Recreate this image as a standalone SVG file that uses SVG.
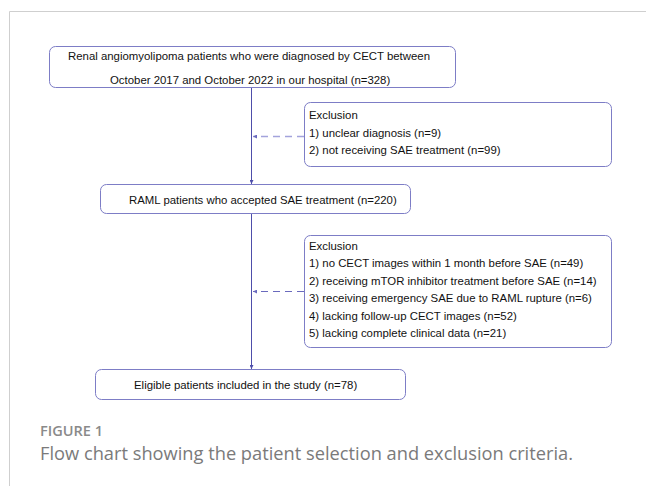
<svg xmlns="http://www.w3.org/2000/svg" width="646" height="486" viewBox="0 0 646 486">
<defs>
<style>
.box{fill:#fff;stroke:#7d7dc6;stroke-width:1}
.t{font-family:"Liberation Sans",Arial,sans-serif;font-size:11.4px;fill:#111}
.line{stroke:#4e4eaa;stroke-width:1;fill:none}
.dash1{stroke:#a3a3dc;stroke-width:1.3;stroke-dasharray:7 5;fill:none}
.dash2{stroke:#6a6abd;stroke-width:1;stroke-dasharray:7 5;fill:none}
.frame{stroke:#cfcfcf;stroke-width:1;fill:none}
</style>
<marker id="ah" viewBox="0 0 6 6" refX="6" refY="3" markerWidth="4" markerHeight="4" orient="auto" markerUnits="userSpaceOnUse">
<path d="M0,0 L6,3 L0,6 Z" fill="#4e4eaa"/>
</marker>
<marker id="ahd" viewBox="0 0 6 6" refX="6" refY="3" markerWidth="4" markerHeight="4" orient="auto" markerUnits="userSpaceOnUse">
<path d="M0,0 L6,3 L0,6 Z" fill="#6a6abd"/>
</marker>
</defs>
<rect width="646" height="486" fill="#fff"/>
<path class="frame" d="M9.5,486 V11.5 H646"/>
<g id="connectors">
<line class="line" x1="251.5" y1="88" x2="251.5" y2="184" marker-end="url(#ah)"/>
<line class="line" x1="251.5" y1="213" x2="251.5" y2="369" marker-end="url(#ah)"/>
<line class="dash1" x1="304" y1="136.5" x2="253" y2="136.5" marker-end="url(#ahd)"/>
<line class="dash2" x1="304" y1="291.5" x2="253" y2="291.5" marker-end="url(#ahd)"/>
</g>
<g id="n1">
<rect class="box" x="49.5" y="46.5" width="406" height="41" rx="6"/>
<text class="t" x="68" y="60">Renal angiomyolipoma patients who were diagnosed by CECT between</text>
<text class="t" x="110" y="83.5">October 2017 and October 2022 in our hospital (n=328)</text>
</g>
<g id="ex1">
<rect class="box" x="304.5" y="102.5" width="307" height="64" rx="6"/>
<text class="t" x="309" y="118.5">Exclusion</text>
<text class="t" x="309" y="136.5">1) unclear diagnosis (n=9)</text>
<text class="t" x="309" y="154">2) not receiving SAE treatment (n=99)</text>
</g>
<g id="n2">
<rect class="box" x="100.5" y="184.5" width="310" height="29" rx="6"/>
<text class="t" x="129" y="204">RAML patients who accepted SAE treatment (n=220)</text>
</g>
<g id="ex2">
<rect class="box" x="304.5" y="235.5" width="307" height="112" rx="6"/>
<text class="t" x="309" y="249.5">Exclusion</text>
<text class="t" x="309" y="267">1) no CECT images within 1 month before SAE (n=49)</text>
<text class="t" x="309" y="284.5">2) receiving mTOR inhibitor treatment before SAE (n=14)</text>
<text class="t" x="309" y="302">3) receiving emergency SAE due to RAML rupture (n=6)</text>
<text class="t" x="309" y="319.5">4) lacking follow-up CECT images (n=52)</text>
<text class="t" x="309" y="337">5) lacking complete clinical data (n=21)</text>
</g>
<g id="n3">
<rect class="box" x="95.5" y="369.5" width="310" height="30" rx="6"/>
<text class="t" x="134" y="389">Eligible patients included in the study (n=78)</text>
</g>
<text x="40" y="436" font-family="'Open Sans',sans-serif" font-size="15" font-weight="600" fill="#8a8a8a" textLength="63" lengthAdjust="spacingAndGlyphs">FIGURE 1</text>
<text x="40" y="460" font-family="'Open Sans',sans-serif" font-size="19" fill="#7a7a7a" textLength="533" lengthAdjust="spacingAndGlyphs">Flow chart showing the patient selection and exclusion criteria.</text>
</svg>
